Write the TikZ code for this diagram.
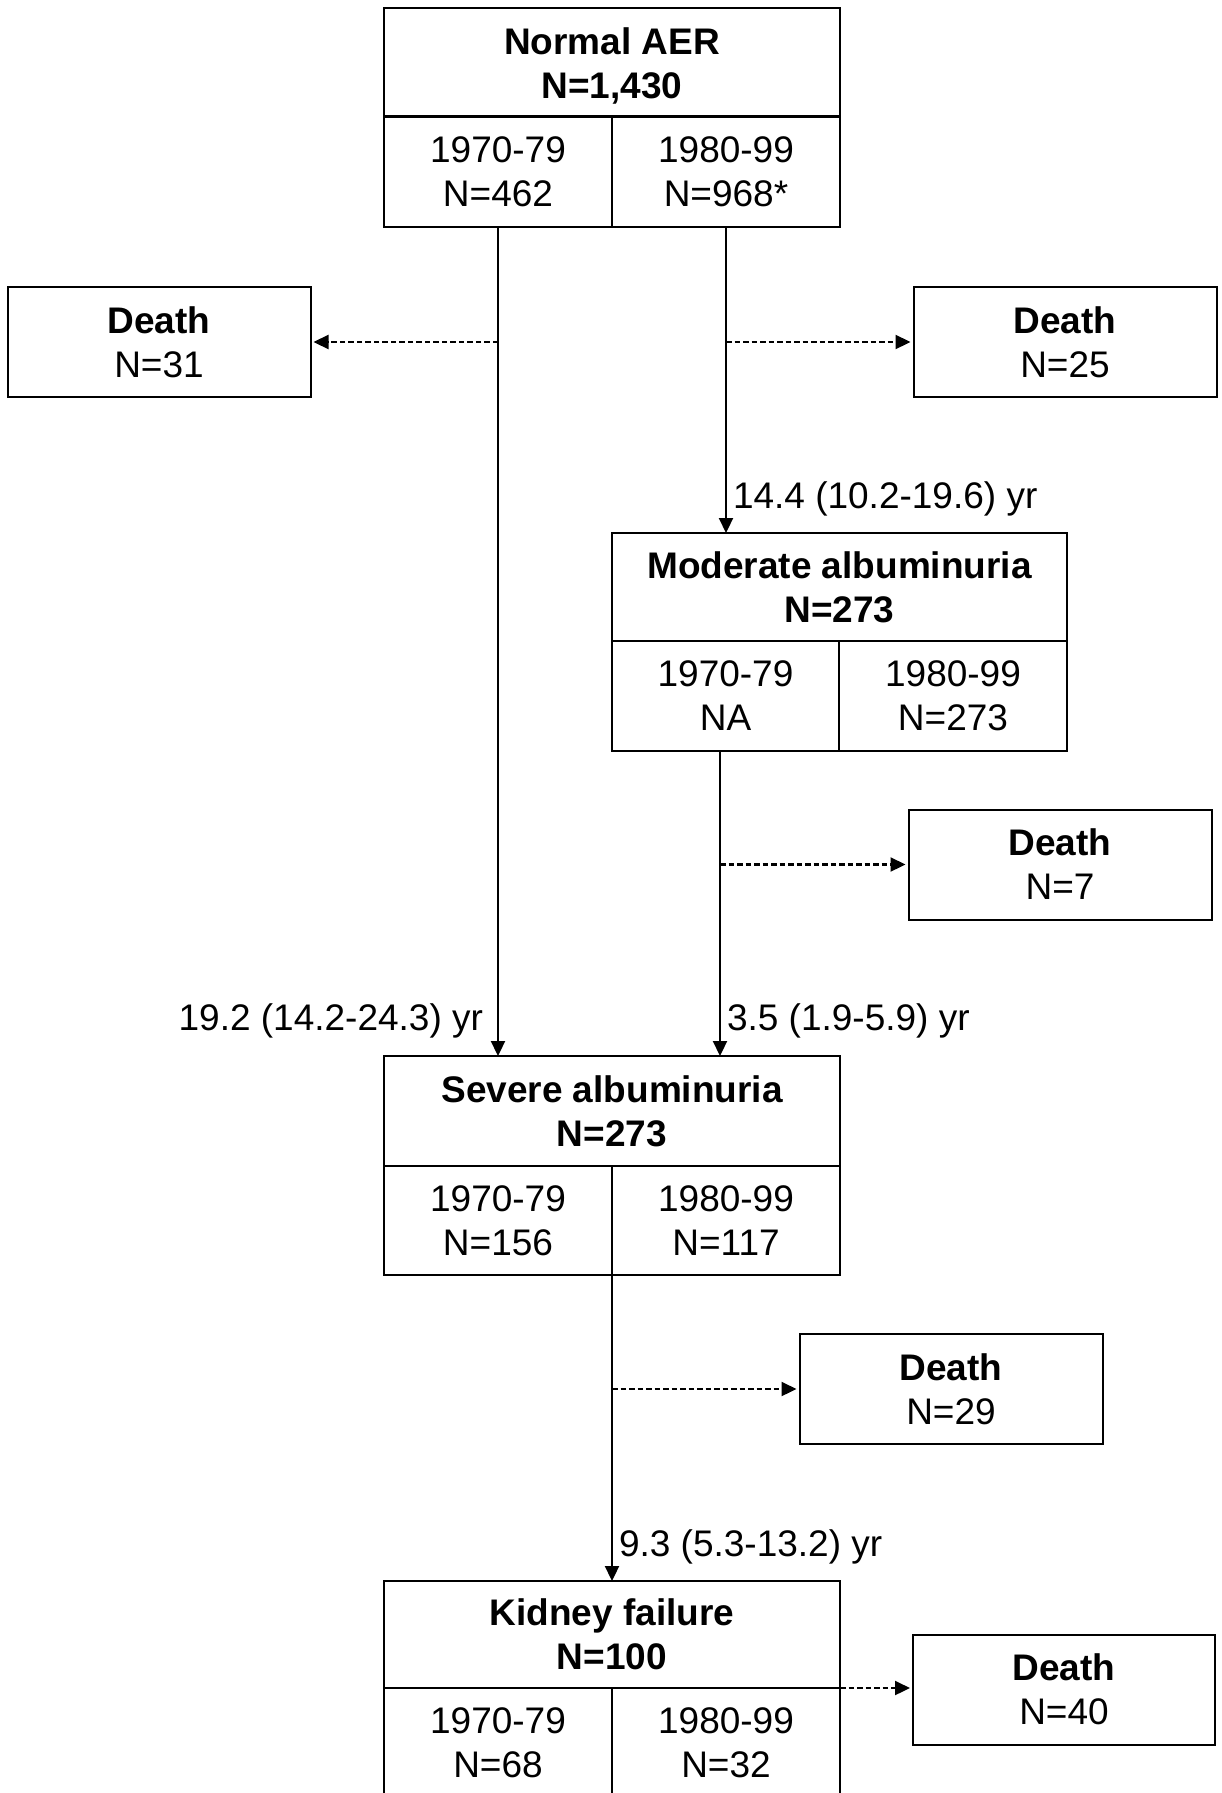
\documentclass[tikz,border=0pt]{standalone}
\usepackage{fontspec}
\setmainfont{Liberation Sans}
\usetikzlibrary{arrows.meta,positioning}
\begin{document}
\begin{tikzpicture}[x=1pt,y=-1pt,
  font=\fontsize{37}{44}\selectfont,
  every node/.style={inner sep=0pt,outer sep=0pt},
  hdr/.style={draw,line width=2pt,minimum width=456pt,minimum height=108pt,align=center,font=\fontsize{37}{44}\selectfont\bfseries},
  cell/.style={draw,line width=2pt,minimum width=228pt,minimum height=110pt,align=center},
  deathbox/.style={draw,line width=2pt,minimum width=303pt,minimum height=110pt,align=center},
  arr/.style={line width=2.2pt,-{Triangle[length=15pt,width=14pt]}},
  darr/.style={line width=2.2pt,dash pattern=on 5.5pt off 3pt,-{Triangle[length=15pt,width=14pt]},shorten >=3pt},
  lbl/.style={inner sep=0pt}]
\clip (0,0) rectangle (1222,1793);
% Normal AER
\node[hdr] (aer) at (612,62) {};
\node[align=center,font=\fontsize{37}{44}\selectfont\bfseries] (aert) at (612,65.5) {Normal AER\\N=1,430};
\node[cell] (aer70) at (498,172) {1970-79\\N=462};
\node[cell] (aer80) at (726,172) {1980-99\\N=968*};
% Deaths top
\node[deathbox] (d31) at (159,342) {\textbf{Death}\\N=31};
\node[deathbox] (d25) at (1065,342) {\textbf{Death}\\N=25};
% Moderate
\node[hdr,minimum width=455pt] (mod) at (839.5,587) {Moderate albuminuria\\N=273};
\node[cell,minimum width=227pt] (mod70) at (725.5,696) {1970-79\\NA};
\node[cell,minimum width=228pt] (mod80) at (953,696) {1980-99\\N=273};
\node[deathbox] (d7) at (1060,864.5) {\textbf{Death}\\N=7};
% Severe
\node[hdr,minimum height=110pt] (sev) at (612,1111) {Severe albuminuria\\N=273};
\node[cell,minimum height=109pt] (sev70) at (498,1220.5) {1970-79\\N=156};
\node[cell,minimum height=109pt] (sev80) at (726,1220.5) {1980-99\\N=117};
\node[deathbox] (d29) at (951,1389) {\textbf{Death}\\N=29};
% Kidney failure
\node[hdr,minimum height=107pt] (kid) at (612,1634.5) {Kidney failure\\N=100};
\node[cell] (kid70) at (498,1743) {1970-79\\N=68};
\node[cell] (kid80) at (726,1743) {1980-99\\N=32};
\node[deathbox,minimum width=302pt] (d40) at (1064,1689.5) {\textbf{Death}\\N=40};
% coordinates on the lines
\coordinate (b31) at (aer70.south |- d31.east);
\coordinate (b25) at (aer80.south |- d25.west);
\coordinate (mtop) at ([xshift=-5.5pt]mod70.south);
\coordinate (b7) at (mtop |- d7.west);
\coordinate (b29) at (sev70.south east |- d29.west);
% solid arrows
\draw[arr] (aer70.south) -- (aer70.south |- sev.north);
\draw[arr] (aer80.south) -- (aer80.south |- mod.north);
\draw[arr] (mtop) -- (mtop |- sev.north);
\draw[arr] (sev70.south east) -- (kid.north);
% dashed arrows
\draw[darr] (b31) -- (d31.east);
\draw[darr] (b25) -- (d25.west);
\draw[darr] (b7) -- (d7.west);
\draw[darr] (b29) -- (d29.west);
\draw[darr] (kid.south east) -- (kid.south east -| d40.west);
% labels
\node[lbl,anchor=west] (l1) at (733,499) {14.4 (10.2-19.6) yr};
\node[lbl,anchor=east] (l2) at (483,1021) {19.2 (14.2-24.3) yr};
\node[lbl,anchor=west] (l3) at (727,1021) {3.5 (1.9-5.9) yr};
\node[lbl,anchor=west] (l4) at (619,1547) {9.3 (5.3-13.2) yr};
\end{tikzpicture}
\end{document}
